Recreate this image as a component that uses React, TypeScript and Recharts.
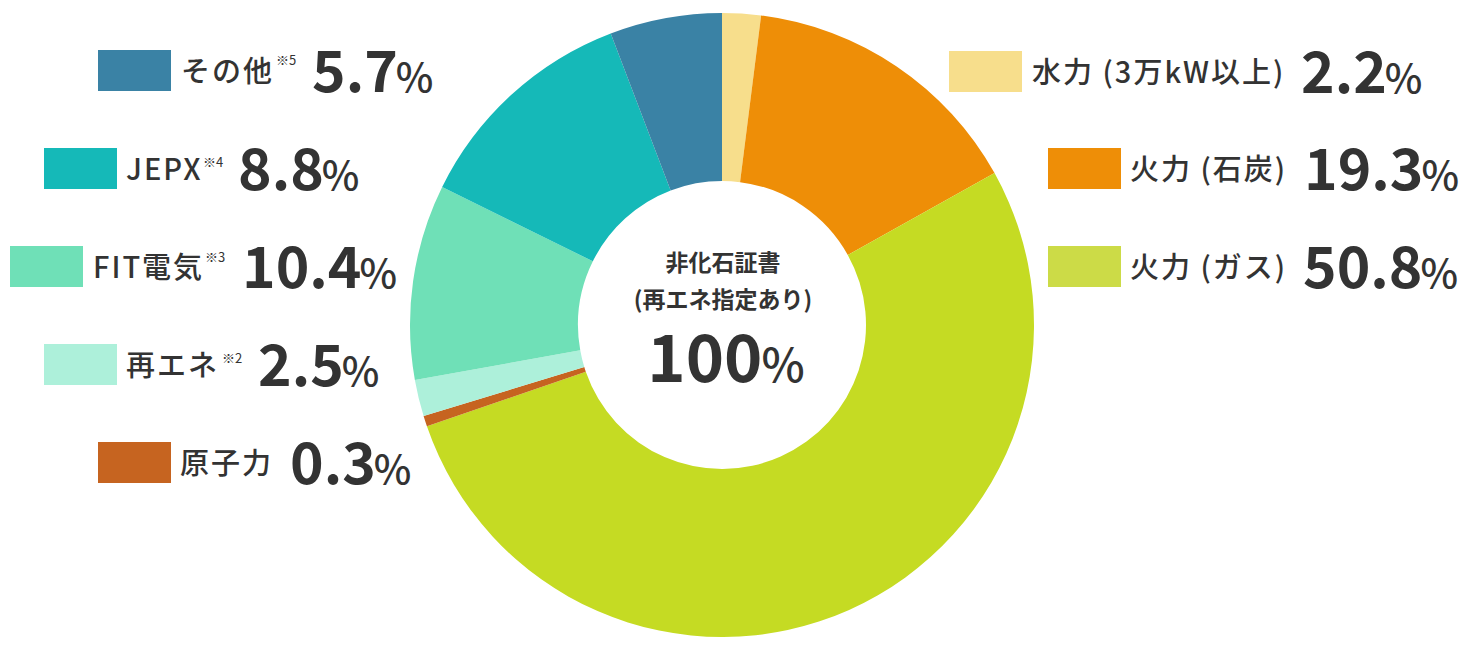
import React from 'react';
import { PieChart, Pie, Cell } from 'recharts';

const categories = ['水力 (3万kW以上)', '火力 (石炭)', '火力 (ガス)', '原子力', '再エネ', 'FIT電気', 'JEPX', 'その他'];
// slice sizes as drawn in the picture (clockwise from 12 o'clock)
const shares = [2.0, 14.9, 52.8, 0.55, 1.9, 10.1, 11.9, 5.8];
// percentages printed in the legend
const labelPercents = ['2.2', '19.3', '50.8', '0.3', '2.5', '10.4', '8.8', '5.7'];
const notes = ['', '', '', '', '※2', '※3', '※4', '※5'];
const sliceColors = ['#F7DE8C', '#EE8E07', '#C5DB23', '#C66420', '#ADF0DA', '#6FE0B7', '#15B9B8', '#3A82A5'];
const swatchColors = ['#F7DE8C', '#EE8E07', '#CCDB47', '#C66420', '#ADF0DA', '#6FE0B7', '#15B9B8', '#3A82A5'];

const centerTitle = ['非化石証書', '(再エネ指定あり)'];
const centerValue = '100';

const legendLayout = [
  { sx: 949, cy: 71.5, lx: 1032, nx: 1301, supX: 0, supY: 0 },
  { sx: 1048, cy: 168.5, lx: 1130, nx: 1304, supX: 0, supY: 0 },
  { sx: 1048, cy: 266.5, lx: 1130, nx: 1303, supX: 0, supY: 0 },
  { sx: 98, cy: 462.5, lx: 180, nx: 290, supX: 0, supY: 0 },
  { sx: 44, cy: 364.5, lx: 126, nx: 258, supX: 222, supY: 363 },
  { sx: 10, cy: 266.5, lx: 93, nx: 242, supX: 205, supY: 262 },
  { sx: 44, cy: 168.5, lx: 126, nx: 238, supX: 203, supY: 167 },
  { sx: 98, cy: 70.5, lx: 181, nx: 312, supX: 276, supY: 64.5 },
];

const FONT = "'Noto Sans CJK JP', 'Noto Sans', sans-serif";
const TEXT = '#333333';

const pieData = categories.map((name, i) => ({ name, value: shares[i] }));

export default function App() {
  return (
    <div style={{ position: 'absolute', left: 0, top: 0, width: 1470, height: 650, background: '#fff', fontFamily: FONT }}>
      <PieChart width={1470} height={650} margin={{ top: 0, right: 0, bottom: 0, left: 0 }}>
        <Pie
          data={pieData}
          dataKey="value"
          nameKey="name"
          cx={722}
          cy={325}
          innerRadius={144}
          outerRadius={312}
          startAngle={90}
          endAngle={-270}
          stroke="none"
          isAnimationActive={false}
        >
          {pieData.map((d, i) => (
            <Cell key={d.name} fill={sliceColors[i]} stroke="none" />
          ))}
        </Pie>
      </PieChart>
      <svg width={1470} height={650} style={{ position: 'absolute', left: 0, top: 0, pointerEvents: 'none' }}>
        {categories.map((name, i) => {
          const L = legendLayout[i];
          return (
            <g key={name} fontFamily={FONT} fill={TEXT}>
              <rect x={L.sx} y={L.cy - 20.5} width={73} height={41} fill={swatchColors[i]} />
              <text x={L.lx} y={L.cy + 11} fontSize={29} fontWeight={500} letterSpacing={2}>{name}</text>
              {notes[i] && (
                <text x={L.supX} y={L.supY} fontSize={13} fontWeight={400}>{notes[i]}</text>
              )}
              <text x={L.nx} y={L.cy + 21} fontSize={57} fontWeight={700}>
                {labelPercents[i]}
                <tspan fontSize={40} fontWeight={500} dx={-2}>%</tspan>
              </text>
            </g>
          );
        })}
        <g fontFamily={FONT} fill={TEXT} textAnchor="middle">
          <text x={723} y={271} fontSize={23} fontWeight={700}>{centerTitle[0]}</text>
          <text x={723} y={308} fontSize={23} fontWeight={700}>{centerTitle[1]}</text>
          <text x={726} y={381.5} fontSize={65} fontWeight={700}>
            {centerValue}
            <tspan fontSize={46} fontWeight={500} dx={-1}>%</tspan>
          </text>
        </g>
      </svg>
    </div>
  );
}
